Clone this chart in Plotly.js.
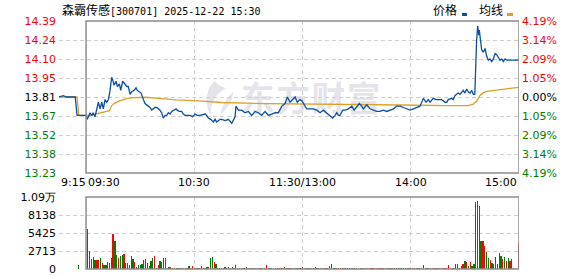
<!DOCTYPE html>
<html><head><meta charset="utf-8">
<script src="https://cdn.plot.ly/plotly-3.0.1.min.js"></script>
<style>html,body{margin:0;padding:0;background:#fff;overflow:hidden}</style>
</head><body><div id="chart" style="width:578px;height:276px"></div>
<script>
const stockName = '森霸传感';
const stockCode = '300701';
const stamp = '2025-12-22 15:30';
const prevClose = 13.81;
const pctLimit = 4.19;
const priceTickLabels = ['14.39','14.24','14.10','13.95','13.81','13.67','13.52','13.38','13.23'];
const pctTickLabels = ['4.19%','3.14%','2.09%','1.05%','0.00%','1.05%','2.09%','3.14%','4.19%'];
const volTickLabels = ['0','2713','5425','8138','1.09万'];
const volMax = 10850;
const timeTickMin = [-15, 0, 60, 120, 180, 240];
const timeTickLabels = ['9:15','09:30','10:30','11:30/13:00','14:00','15:00'];
const legendNames = ['价格','均线'];

// minutes from 09:30 (trading minutes, lunch removed)
const priceMin = [-15,-12.5,-11,-6,-5,0,0.7,2.2,3.2,3.9,5,5.9,6.8,7.8,8.7,9.6,10.5,11.5,12.4,13.3,14.2,14.8,15.5,16.6,17.4,18.5,19.2,20.3,21.6,22.6,23.4,24.4,25.3,26.6,27.7,28.4,29.5,30.5,31.8,32.7,33.6,34.5,35.5,36.4,37.3,38.2,39.2,40.1,41,41.9,42.8,43.8,44.7,45.6,46.6,47.5,48.4,49.9,50.6,51.7,53,53.9,54.9,57.6,59.1,60.4,61.7,63.2,66,66.9,67.8,69.1,70.6,71.5,72.4,74.3,75.2,77.1,78.9,80.8,82.6,83.1,84.4,86.3,88.1,90,91.9,93.7,95.5,97.4,99.2,101.1,103,104.8,106.6,108.5,110.3,111.6,113.1,114.6,115.9,117.1,118.6,119.7,120.5,122.3,124.2,126,127.9,129.7,131.5,133.4,135.3,136.7,138,139,139.9,140.8,142.3,143.6,145.4,147.3,148.6,150.1,151.5,152.8,153.7,155.6,157.4,159.3,161.1,163,164.8,166.7,168.5,170.4,172.2,174.1,175.9,177.8,179.6,181.5,183.3,185.1,186.1,187,188.5,189.7,190.7,191.6,192.5,194,195.3,197.2,199,199.9,200.8,202.7,203.5,204.5,205.4,206.3,207.3,208.2,209.1,210,211,211.9,212.9,213.8,214.7,215.5,216,216.5,217.1,217.7,218,218.6,219.3,220.2,221.2,222.1,223,223.9,224.9,225.8,226.7,227.7,228.5,229.5,230.4,231.3,232.3,233.2,235,240];
const price = [13.81,13.82,13.81,13.81,13.67,13.67,13.64,13.69,13.67,13.69,13.66,13.71,13.77,13.72,13.77,13.72,13.79,13.77,13.79,13.86,13.96,13.94,13.90,13.93,13.89,13.91,13.86,13.93,13.91,13.89,13.89,13.83,13.85,13.86,13.88,13.86,13.85,13.84,13.79,13.76,13.75,13.74,13.73,13.71,13.72,13.73,13.73,13.72,13.71,13.69,13.65,13.67,13.67,13.69,13.68,13.70,13.71,13.72,13.71,13.70,13.70,13.68,13.67,13.67,13.66,13.68,13.67,13.67,13.68,13.67,13.65,13.64,13.62,13.64,13.62,13.64,13.64,13.63,13.64,13.61,13.66,13.74,13.71,13.71,13.69,13.70,13.67,13.70,13.69,13.67,13.70,13.67,13.68,13.69,13.69,13.74,13.76,13.81,13.77,13.79,13.81,13.77,13.79,13.78,13.76,13.72,13.72,13.72,13.71,13.69,13.71,13.69,13.67,13.65,13.67,13.69,13.67,13.67,13.71,13.71,13.72,13.74,13.71,13.74,13.76,13.74,13.72,13.75,13.72,13.71,13.70,13.70,13.71,13.70,13.71,13.72,13.74,13.74,13.73,13.72,13.71,13.72,13.73,13.74,13.77,13.80,13.77,13.79,13.77,13.79,13.80,13.79,13.79,13.79,13.77,13.77,13.79,13.80,13.79,13.82,13.83,13.84,13.83,13.85,13.86,13.84,13.87,13.85,13.84,13.86,13.83,13.83,14.07,14.24,14.35,14.28,14.32,14.24,14.17,14.15,14.18,14.12,14.09,14.10,14.08,14.10,14.14,14.13,14.11,14.09,14.10,14.08,14.10,14.09,14.09,14.09];
const avgMin = [-15,-5,-4,0,3,4.5,13,14.2,15.7,18.9,22.6,26.3,33,40,50,62,75,100,150,175,200,212,214.7,216.5,218.6,220.4,222.2,225,227.7,230.4,233.2,236.9,240];
const avgPrice = [13.81,13.81,13.67,13.668,13.670,13.678,13.706,13.745,13.762,13.782,13.797,13.805,13.808,13.800,13.788,13.780,13.768,13.760,13.756,13.749,13.744,13.744,13.755,13.779,13.825,13.843,13.853,13.858,13.863,13.869,13.874,13.879,13.884];

// volume per minute starting at minute -4 (auction), u = up (red), d = down (green)
const volStartMin = -4;
const vol = [600,0,0,0,
 0,6080,2763,1557,1859,1406,1406,1406,1708,954,
 653,653,1105,854,1708,5324,4270,2160,1708,2009,
 2160,2311,954,954,653,2009,1557,1105,301,653,
 653,804,1406,1557,954,400,1256,1708,2009,201,
 653,1256,1105,1708,1708,201,352,352,200,200,
 200,200,200,200,200,200,200,503,200,503,
 200,200,200,200,503,200,200,350,350,1708,
 1859,1105,804,200,200,200,200,350,200,350,
 200,350,200,653,200,200,200,200,200,350,
 200,200,200,200,200,200,200,200,200,200,
 653,200,200,200,200,200,200,200,200,200,
 350,200,200,200,200,200,200,200,200,200,
 350,200,200,200,200,200,200,350,200,200,
 200,200,200,200,200,500,804,200,200,200,
 200,200,200,200,200,200,200,200,200,200,
 200,200,200,200,200,200,200,200,200,200,
 200,200,200,200,200,200,200,200,200,200,
 200,200,200,200,200,200,200,200,200,200,
 200,200,200,200,200,200,200,653,200,200,
 200,200,200,200,200,200,200,200,200,200,
 200,653,200,200,200,804,804,200,500,804,
 1256,1105,500,1105,500,804,10100,10300,9550,4270,
 4270,3516,2612,1708,1406,954,804,1859,804,2461,
 2009,1557,1859,1256,1708,1256,1557,200,0,0,
 3968];
const volDir = 'd---' +
 '-duudduudu' + 'dduuuuddud' + 'duddddduud' + 'ddddudddud' + 'uddduududu' +
 'udduduuduu' + 'uduududdud' + 'dudduuudud' + 'uddudduudd' + 'uudduduudu' +
 'udduduuudu' + 'ududduudud' + 'uduuduudud' + 'dududddudu' + 'uuuduuduud' +
 'udduduuduu' + 'ududuuduud' + 'duudduuuud' + 'uudduududd' + 'udduuduudu' +
 'uuuuduuddu' + 'dududduudd' + 'uudduddudd' + 'dudududu--' + 'u';

const UP = '#ff0000', DOWN = '#008000', FLAT = '#000000';
const LINE_BLUE = '#0b4f9f', LINE_GOLD = '#dca12a';
const GRID = '#cfcfcf', FRAME = '#8c8c8c';
const LBL_FONT = {family: 'DejaVu Sans, Verdana, sans-serif', size: 11, color: '#000'};

// axis geometry
const lo = prevClose * (1 - pctLimit / 100), hi = prevClose * (1 + pctLimit / 100);
const n = priceTickLabels.length, half = (n - 1) / 2;
const priceTickVals = priceTickLabels.map((_, i) => prevClose * (1 + pctLimit / 100 * (half - i) / half));
const pctTickVals = pctTickLabels.map((_, i) => pctLimit * (half - i) / half);
const colorFor = i => i < half ? UP : (i === half ? FLAT : DOWN);
const colored = (arr) => arr.map((t, i) => `<span style="color:${colorFor(i)}">${t}</span>`);
const volTickVals = volTickLabels.map((_, i) => volMax * i / (volTickLabels.length - 1));

// volume bars
const bx = [], by = [], bc = [];
vol.forEach((v, i) => {
  if (v > 0) { bx.push(volStartMin + i); by.push(v); bc.push(volDir[i] === 'u' ? UP : DOWN); }
});

const traces = [
  {x: avgMin, y: avgPrice, type: 'scatter', mode: 'lines', line: {color: LINE_GOLD, width: 1.3}, xaxis: 'x', yaxis: 'y', hoverinfo: 'skip'},
  {x: priceMin, y: price, type: 'scatter', mode: 'lines', line: {color: LINE_BLUE, width: 1.3}, xaxis: 'x', yaxis: 'y', hoverinfo: 'skip'},
  {x: bx, y: by, type: 'bar', width: 0.7, marker: {color: bc, line: {width: 0}}, xaxis: 'x2', yaxis: 'y2', hoverinfo: 'skip'}
];

// pixel helpers for paper coordinates
const W = 578, H = 276, mL = 59, mR = 59, mT = 21, mB = 7;
const pw = W - mL - mR, ph = H - mT - mB;
const px = X => (X - mL) / pw;
const py = Y => (H - mB - Y) / ph;

const mainTop = 21, mainBot = 173, volTop = 197, volBot = 269;

const annotations = [];
annotations.push({xref: 'paper', yref: 'paper', x: px(60), y: py(9), xanchor: 'left', yanchor: 'middle', showarrow: false,
  text: `${stockName}<span style="font-family:monospace;font-size:10px">[${stockCode}] ${stamp}</span>`,
  font: {family: 'Noto Sans CJK SC, sans-serif', size: 12, color: '#000'}});
annotations.push({xref: 'paper', yref: 'paper', x: px(431), y: py(9), xanchor: 'left', yanchor: 'middle', showarrow: false,
  text: legendNames[0], font: {family: 'Noto Sans CJK SC, sans-serif', size: 12, color: '#000'}});
annotations.push({xref: 'paper', yref: 'paper', x: px(477), y: py(9), xanchor: 'left', yanchor: 'middle', showarrow: false,
  text: legendNames[1], font: {family: 'Noto Sans CJK SC, sans-serif', size: 12, color: '#000'}});
timeTickMin.forEach((m, i) => {
  const anchor = i <= 1 ? 'left' : (i === timeTickMin.length - 1 ? 'right' : 'center');
  annotations.push({xref: 'x', yref: 'paper', x: m, y: py(182), xanchor: anchor, yanchor: 'middle', showarrow: false,
    text: timeTickLabels[i], font: LBL_FONT, xshift: anchor === 'left' ? 0 : 0});
});

const shapes = [
  {type: 'rect', xref: 'x', yref: 'y domain', x0: 0, x1: 240, y0: 0, y1: 1, line: {color: FRAME, width: 1.5}, layer: 'above'},
  {type: 'rect', xref: 'x2', yref: 'y2 domain', x0: 0, x1: 240, y0: 0, y1: 1, line: {color: FRAME, width: 1.5}, layer: 'above'},
  {type: 'rect', xref: 'paper', yref: 'paper', x0: px(462), x1: px(467), y0: py(16), y1: py(13), fillcolor: LINE_BLUE, line: {width: 0}},
  {type: 'rect', xref: 'paper', yref: 'paper', x0: px(507), x1: px(513), y0: py(16), y1: py(13), fillcolor: LINE_GOLD, line: {width: 0}}
];

const wmSvg = `<svg xmlns="http://www.w3.org/2000/svg" width="200" height="44" viewBox="0 0 200 44">
<path d="M14 4 C4 12 2 30 10 42 C8 30 14 18 26 12 C20 10 16 8 14 4 Z" fill="#e4e4ea"/>
<path d="M20 40 C22 28 28 20 34 16 C32 26 28 34 20 40 Z" fill="#e4e4ea"/>
<text x="42" y="37" font-family="Noto Sans CJK SC" font-weight="bold" font-size="36" textLength="150" fill="#e4e4ea">东方财富</text></svg>`;
const wmUri = 'data:image/svg+xml;charset=utf-8,' + encodeURIComponent(wmSvg);

const axBase = {showline: false, zeroline: false, ticks: '', fixedrange: true};
const layout = {
  width: W, height: H,
  margin: {l: mL, r: mR, t: mT, b: mB, pad: 0},
  paper_bgcolor: '#ffffff', plot_bgcolor: 'rgba(0,0,0,0)',
  showlegend: false, bargap: 0,
  xaxis: Object.assign({}, axBase, {domain: [0, 1], range: [-15, 240], anchor: 'y', tickvals: [60, 120, 180], showticklabels: false,
    showgrid: true, gridcolor: GRID, griddash: '4px,3px', gridwidth: 1}),
  xaxis2: Object.assign({}, axBase, {domain: [0, 1], range: [-15, 240], anchor: 'y2', matches: 'x', tickvals: [60, 120, 180], showticklabels: false,
    showgrid: true, gridcolor: GRID, griddash: '4px,3px', gridwidth: 1}),
  yaxis: Object.assign({}, axBase, {domain: [py(mainBot), py(mainTop)], range: [lo, hi], anchor: 'x', tickvals: priceTickVals, ticktext: colored(priceTickLabels),
    showgrid: true, gridcolor: GRID, griddash: '4px,3px', tickfont: LBL_FONT, ticklabelstandoff: 2}),
  yaxis3: Object.assign({}, axBase, {overlaying: 'y', side: 'right', anchor: 'x', range: [-pctLimit, pctLimit], tickvals: pctTickVals, ticktext: colored(pctTickLabels),
    showgrid: false, tickfont: LBL_FONT, ticklabelstandoff: 2}),
  yaxis2: Object.assign({}, axBase, {domain: [py(volBot), py(volTop)], range: [0, volMax], anchor: 'x2', tickvals: volTickVals, ticktext: volTickLabels,
    showgrid: true, gridcolor: GRID, griddash: '4px,3px', tickfont: LBL_FONT, ticklabelstandoff: 2}),
  annotations, shapes,
  images: [{source: wmUri, xref: 'paper', yref: 'paper', x: px(202), y: py(77), sizex: (388 - 202) / pw, sizey: 41 / ph,
    xanchor: 'left', yanchor: 'top', sizing: 'stretch', layer: 'below'}]
};
// dummy trace to activate the right-hand percent axis
traces.push({x: [0], y: [0], type: 'scatter', mode: 'markers', marker: {opacity: 0}, xaxis: 'x', yaxis: 'y3', hoverinfo: 'skip'});

Plotly.newPlot('chart', traces, layout, {staticPlot: true, displayModeBar: false});
</script></body></html>
